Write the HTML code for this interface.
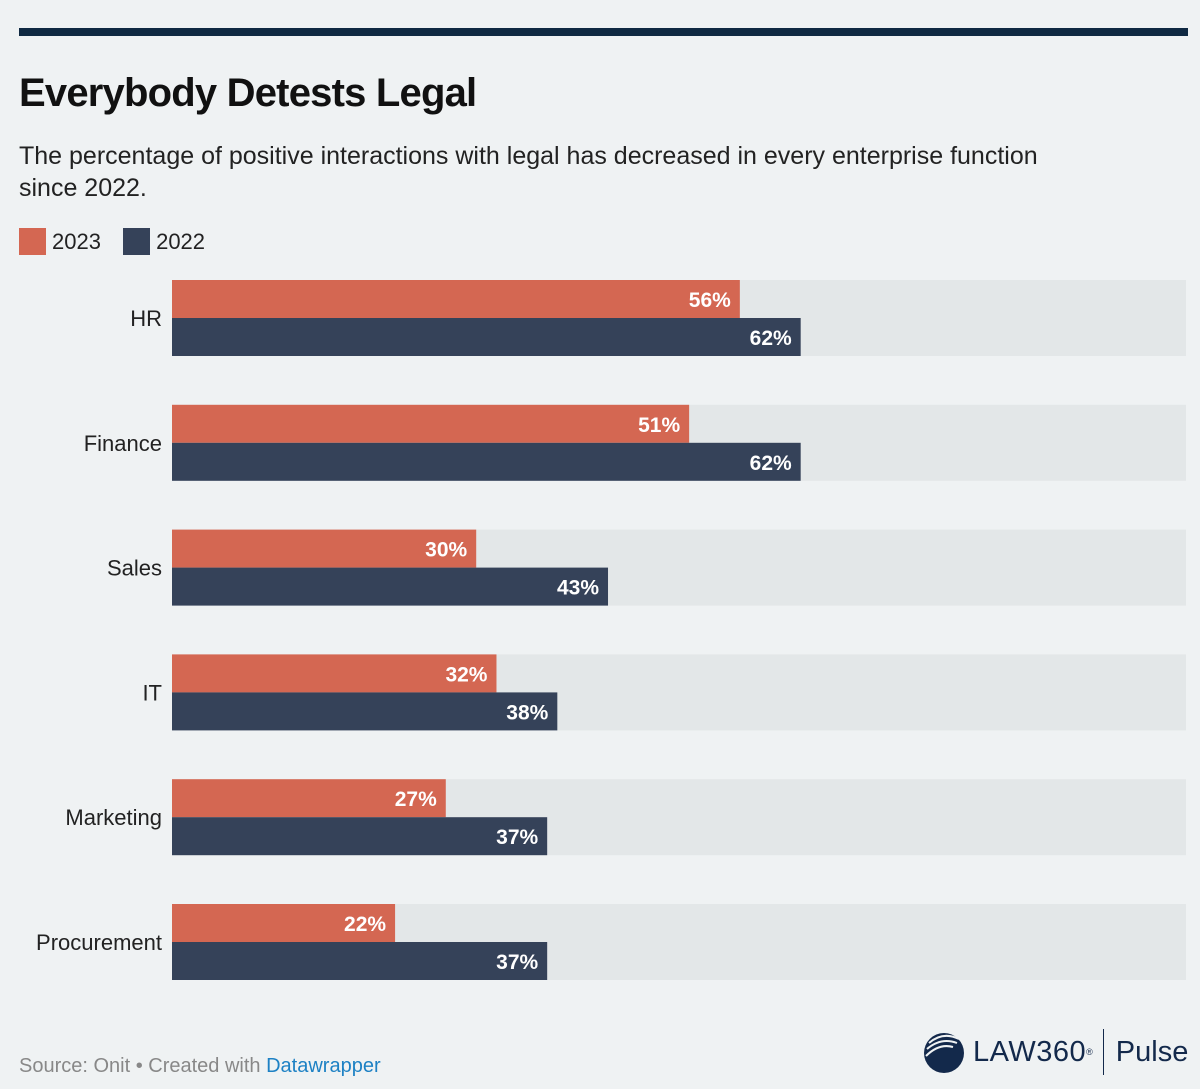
<!DOCTYPE html>
<html><head><meta charset="utf-8"><style>
body{margin:0;width:1200px;height:1089px;background:#eff2f3;font-family:"Liberation Sans",sans-serif;overflow:hidden;position:relative}
</style></head><body>
<div style="position:absolute;left:19px;top:28px;width:1169px;height:8px;background:#0f2942"></div>
<div style="position:absolute;left:19px;top:71px;font-size:40px;font-weight:bold;color:#111;letter-spacing:-0.8px">Everybody Detests Legal</div>
<div style="position:absolute;left:19px;top:140px;font-size:25px;line-height:32px;color:#222;width:1060px">The percentage of positive interactions with legal has decreased in every enterprise function since 2022.</div>
<div style="position:absolute;left:19px;top:228px;font-size:22px;color:#222">
<span><span style="display:inline-block;width:27px;height:27px;background:#d46752;vertical-align:-6px;margin-right:6px"></span>2023</span>
<span style="margin-left:16px"><span style="display:inline-block;width:27px;height:27px;background:#354259;vertical-align:-6px;margin-right:6px"></span>2022</span>
</div>
<svg id="chart" width="1200" height="1089" style="position:absolute;left:0;top:0"></svg>
<div style="position:absolute;left:19px;top:1055px;font-size:20px;color:#888">Source: Onit • Created with <span style="color:#1d81c4">Datawrapper</span></div>
<div style="position:absolute;left:921px;top:1027px;height:50px;display:flex;align-items:center;color:#13294b">
<svg width="46" height="46" viewBox="0 0 46 46"><circle cx="23" cy="24" r="20" fill="#13294b"/><path d="M8 14 Q22 2 38 10 M6 20 Q20 8 36 14 M5 27 Q18 14 32 18" stroke="#eff2f3" stroke-width="2" fill="none"/></svg>
<span style="font-size:29px;margin-left:6px;letter-spacing:0.5px">LAW360</span><sup style="font-size:9px">®</sup>
<span style="display:inline-block;width:1px;height:46px;background:#13294b;margin:0 12px 0 10px"></span>
<span style="font-size:29px">Pulse</span>
</div>
<script>
const categories=["HR","Finance","Sales","IT","Marketing","Procurement"];
const values2023=[56,51,30,32,27,22];
const values2022=[62,62,43,38,37,37];
const svg=document.getElementById('chart');
const NS='http://www.w3.org/2000/svg';
const x0=172,x1=1186,top0=280,step=124.8,bh=38;
const xs=v=>x0+(x1-x0)*v/100;
function mk(t,a){const e=document.createElementNS(NS,t);for(const k in a)e.setAttribute(k,a[k]);svg.appendChild(e);return e;}
categories.forEach((c,i)=>{
  const y=top0+i*step;
  const tr=mk('rect',{x:x0,y:y,width:x1-x0,height:bh*2,fill:'#e3e7e8'});
  
  
  const lb=mk('text',{x:162,y:y+bh+8,'text-anchor':'end','font-size':22,fill:'#222'});lb.textContent=c;
  
  
  [[values2023[i],'#d46752','2023'],[values2022[i],'#354259','2022']].forEach((s,j)=>{
    const r=mk('rect',{x:x0,y:y+j*bh,width:xs(s[0])-x0,height:bh,fill:s[1]});
    
    
    const t=mk('text',{x:xs(s[0])-9,y:y+j*bh+bh/2+8,'text-anchor':'end','font-size':21,'font-weight':'bold',fill:'#fff'});
    t.textContent=s[0]+'%';
    
    
  });
});
</script>
</body></html>
